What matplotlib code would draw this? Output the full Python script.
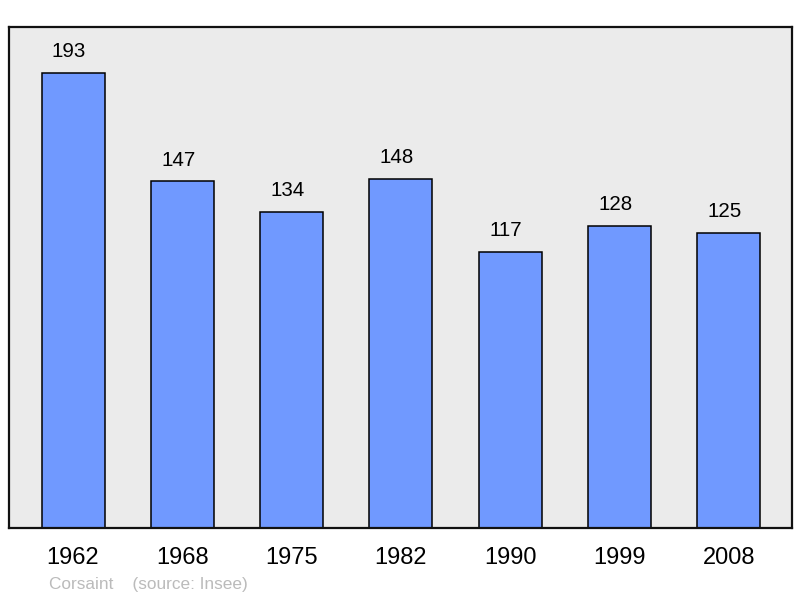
import matplotlib.pyplot as plt

plt.rcParams['font.family'] = ['Liberation Sans', 'DejaVu Sans']

years = ['1962', '1968', '1975', '1982', '1990', '1999', '2008']
population = [193, 147, 134, 148, 117, 128, 125]

fig = plt.figure(figsize=(8, 5.98), dpi=100)
ax = fig.add_axes([9 / 800, 70 / 598, 783 / 800, 501 / 598])
ax.set_facecolor('#ebebeb')

x = range(len(years))
bars = ax.bar(x, population, width=0.576, color='#7099ff',
              edgecolor='black', linewidth=1.1, zorder=2)

# valeurs au-dessus des barres, un peu decalees a gauche comme l'original
for xi, v in zip(x, population):
    ax.annotate(str(v), (xi, v), xytext=(-3, 8.5), textcoords='offset points',
                ha='center', va='bottom', fontsize=14.8)

ax.set_xlim(-0.586, 6.578)
ax.set_ylim(0, 212.5)
ax.set_yticks([])
ax.set_xticks(list(x))
ax.set_xticklabels(years, fontsize=17)
ax.tick_params(axis='x', length=0, pad=13.5)
for s in ax.spines.values():
    s.set_linewidth(1.6)
    s.set_color('#111111')

fig.text(49 / 800, 1 - 584 / 598, 'Corsaint    (source: Insee)',
         color='#bbbbbb', fontsize=12.4, va='center', ha='left')

fig.savefig('out.png', dpi=100)
